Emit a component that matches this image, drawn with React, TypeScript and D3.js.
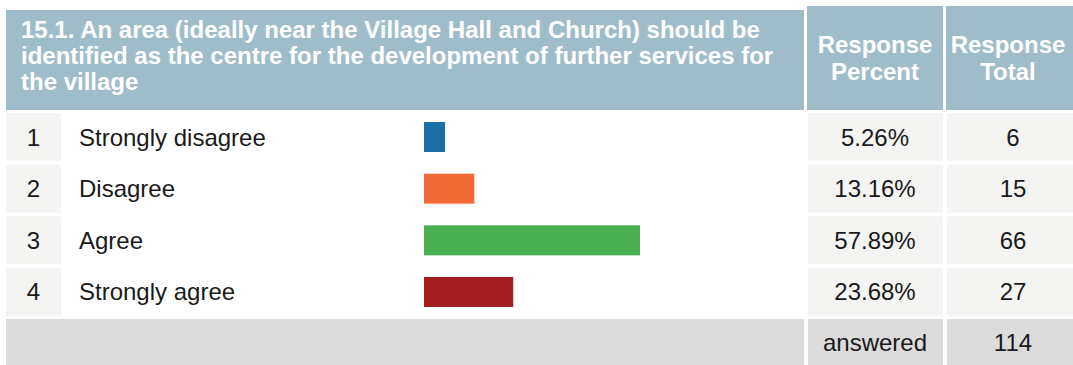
import React from "react";
import * as d3 from "d3";

const questionLines = [
  "15.1. An area (ideally near the Village Hall and Church) should be",
  "identified as the centre for the development of further services for",
  "the village",
];
const categories = ["Strongly disagree", "Disagree", "Agree", "Strongly agree"];
const percents = [5.26, 13.16, 57.89, 23.68];
const totals = [6, 15, 66, 27];
const colors = ["#1c6fa6", "#f16a35", "#4aaf50", "#a51d1f"];
const answeredTotal = 114;

const W = 1073;
const H = 365;
const FONT = "'Liberation Sans', Arial, sans-serif";
const HEADER_BG = "#9fbdc9";
const CELL_BG = "#f4f4f3";
const ANS_BG = "#dcdcdc";
const FS = 24;

export default function App() {
  const rowY = d3
    .scaleBand<number>()
    .domain(d3.range(categories.length))
    .range([113, 316])
    .paddingInner(0.07)
    .paddingOuter(0);
  const barW = d3.scaleLinear().domain([0, 100]).range([1.5, 372]);
  const barX0 = 424;
  const barH = 30;

  return (
    <svg
      width={W}
      height={H}
      style={{ position: "absolute", left: 0, top: 0, background: "#fff" }}
      fontFamily={FONT}
    >
      {/* header */}
      <rect x={6} y={10} width={798} height={100} fill={HEADER_BG} />
      <rect x={807} y={6} width={136} height={104} fill={HEADER_BG} />
      <rect x={946} y={6} width={W - 946} height={104} fill={HEADER_BG} />
      {questionLines.map((t, i) => (
        <text
          key={i}
          x={21}
          y={37.5 + i * 26}
          fill="#fff"
          fontSize={FS}
          fontWeight="bold"
        >
          {t}
        </text>
      ))}
      {["Response", "Percent"].map((t, i) => (
        <text
          key={"p" + i}
          x={875}
          y={53 + i * 27}
          fill="#fff"
          fontSize={FS}
          fontWeight="bold"
          textAnchor="middle"
        >
          {t}
        </text>
      ))}
      {["Response", "Total"].map((t, i) => (
        <text
          key={"t" + i}
          x={1008}
          y={53 + i * 27}
          fill="#fff"
          fontSize={FS}
          fontWeight="bold"
          textAnchor="middle"
        >
          {t}
        </text>
      ))}

      {/* rows */}
      {categories.map((c, i) => {
        const y = rowY(i) as number;
        const h = rowY.bandwidth();
        const cy = y + h / 2;
        return (
          <g key={c}>
            <rect x={6} y={y} width={55} height={h} fill={CELL_BG} />
            <rect x={808} y={y} width={135} height={h} fill={CELL_BG} />
            <rect x={947} y={y} width={W - 947} height={h} fill={CELL_BG} />
            <text x={33.5} y={cy + 8.5} fontSize={FS} fill="#1a1a1a" textAnchor="middle">
              {i + 1}
            </text>
            <text x={79} y={cy + 8.5} fontSize={FS} fill="#1a1a1a">
              {c}
            </text>
            <rect
              x={barX0}
              y={cy - barH / 2}
              width={barW(percents[i])}
              height={barH}
              fill={colors[i]}
            />
            <text x={875} y={cy + 8.5} fontSize={FS} fill="#1a1a1a" textAnchor="middle">
              {percents[i].toFixed(2) + "%"}
            </text>
            <text x={1013} y={cy + 8.5} fontSize={FS} fill="#1a1a1a" textAnchor="middle">
              {totals[i]}
            </text>
          </g>
        );
      })}

      {/* answered row */}
      <rect x={6} y={319} width={798} height={H - 319} fill={ANS_BG} />
      <rect x={808} y={319} width={135} height={H - 319} fill={ANS_BG} />
      <rect x={947} y={319} width={W - 947} height={H - 319} fill={ANS_BG} />
      <text x={875} y={350.5} fontSize={FS} fill="#1a1a1a" textAnchor="middle">
        answered
      </text>
      <text x={1013} y={350.5} fontSize={FS} fill="#1a1a1a" textAnchor="middle">
        {answeredTotal}
      </text>
    </svg>
  );
}
